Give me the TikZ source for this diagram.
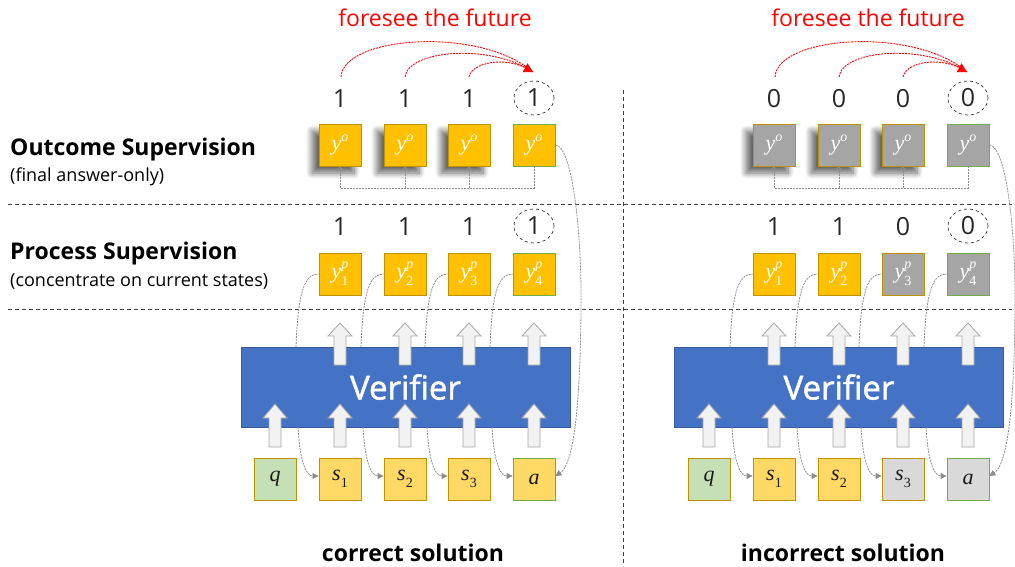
\documentclass[tikz,border=0pt]{standalone}
\usepackage{fontspec}
\setmainfont{Open Sans}
\newfontfamily\mfont{Liberation Serif}
\newfontfamily\vfont{Open Sans}[FakeBold=1.5]
\usetikzlibrary{arrows.meta,shadows.blur,shapes.geometric,calc}
\definecolor{gold}{HTML}{FFC000}
\definecolor{goldline}{HTML}{BF9000}
\definecolor{lyellow}{HTML}{FFD966}
\definecolor{lgreen}{HTML}{C5E0B4}
\definecolor{gline}{HTML}{70AD47}
\definecolor{dgray}{HTML}{A5A5A5}
\definecolor{lgray}{HTML}{D9D9D9}
\definecolor{vblue}{HTML}{4472C4}
\definecolor{arrfill}{HTML}{F2F2F2}
\definecolor{arrline}{HTML}{A6A6A6}
\definecolor{sepline}{HTML}{404040}
\definecolor{conn}{HTML}{8C8C8C}
% math-like labels set in a scalable serif italic
\newcommand\smallfs{\fontsize{14}{14}\selectfont}
\newcommand\yo{{\mfont\itshape y}\raisebox{0.42em}{\mfont\smallfs\itshape o}}
\newcommand\yp[1]{{\mfont\itshape y}\rlap{\raisebox{0.45em}{\mfont\smallfs\itshape p}}\raisebox{-0.32em}{\mfont\smallfs #1}}
\newcommand\sv[1]{{\mfont\itshape s}\raisebox{-0.3em}{\mfont\smallfs #1}}
\tikzset{
  box/.style={draw=goldline, line width=0.9pt, minimum size=42pt, inner sep=0pt, text=white, font=\fontsize{22}{24}\selectfont},
  lowbox/.style={draw=goldline, line width=0.9pt, minimum size=42pt, inner sep=0pt, text=black!90, font=\fontsize{22}{24}\selectfont},
  shad/.style={blur shadow={shadow xshift=-7pt, shadow yshift=-7pt, shadow blur steps=10, shadow opacity=60, shadow blur radius=6pt}},
  num/.style={font=\fontsize{25}{28}\selectfont, text=black!85, inner sep=0pt},
  numc/.style={num, ellipse, draw=black!80, dashed, line width=0.7pt, minimum width=40pt, minimum height=34pt},
  sep/.style={draw=sepline, line width=0.8pt, dash pattern=on 4pt off 3pt},
  fb/.style={draw=conn, line width=0.8pt, dash pattern=on 2pt off 1pt},
  fbarrow/.style={fb, -{Straight Barb[length=4pt,width=8pt]}},
  darrow/.style={fb, -{Triangle[length=6pt,width=6pt]}, color=conn},
  redarc/.style={draw=red, line width=0.9pt, dash pattern=on 2pt off 1pt},
  verif/.style={fill=vblue, draw=vblue!80!black, line width=0.6pt, minimum width=329pt, minimum height=80pt, text=white, font=\vfont\fontsize{33}{36}\selectfont},
  blk/.style={fill=arrfill, draw=arrline, line width=0.8pt, line join=miter},
  title/.style={font=\fontsize{23}{26}\selectfont\bfseries, anchor=west, inner sep=0pt},
  sub/.style={font=\fontsize{18}{21}\selectfont, anchor=west, inner sep=0pt},
  foot/.style={font=\fontsize{23}{26}\selectfont\bfseries, inner sep=0pt},
  red/.style={font=\fontsize{23}{26}\selectfont, text=red, inner sep=0pt}
}
% block arrow: center x, bottom y, tip y, head base y
\newcommand\blkarr[4]{%
  \path[blk] (#1-6,#2) -- (#1-6,#4) -- (#1-12,#4) -- (#1,#3) -- (#1+12,#4) -- (#1+6,#4) -- (#1+6,#2) -- cycle;}
\begin{document}
\begin{tikzpicture}[x=1pt,y=-1pt]
\useasboundingbox (0,0) rectangle (1015,566);

% separators
\draw[sep] (8,204) -- (1012,204);
\draw[sep] (8,309) -- (1012,309);
\draw[sep] (623,90) -- (623,566);

% left labels
\node[title] (t1) at (10,150) {Outcome Supervision};
\node[sub] (t1s) at (10,177) {(final answer-only)};
\node[title] (t2) at (10,254) {Process Supervision};
\node[sub] (t2s) at (10,281) {(concentrate on current states)};

%================ LEFT PANEL =================
% verifier
\node[verif] (Lver) at (405.5,387) {Verifier};
\foreach \x in {340,405,469,534} {\blkarr{\x}{365}{323}{336}}
\foreach \x in {275,340,405,469,534} {\blkarr{\x}{447}{404}{418}}

% outcome
\node[num] (Ln1) at (340,99) {1};
\node[num] (Ln2) at (405,99) {1};
\node[num] (Ln3) at (469,99) {1};
\node[numc] (Ln4) at (534,98) {1};
\node[box, fill=gold, shad] (Lo1) at (340,145) {\yo};
\node[box, fill=gold, shad] (Lo2) at (405,145) {\yo};
\node[box, fill=gold, shad] (Lo3) at (469,145) {\yo};
\node[box, fill=gold, draw=gline] (Lo4) at (534,145) {\yo};
\coordinate (Lfb) at (340,188);
\draw[fb] (Lo4.south) |- (Lfb);
\draw[fbarrow] (Lfb) -- (Lo1.south);
\draw[fbarrow] (Lo2.south |- Lfb) -- (Lo2.south);
\draw[fbarrow] (Lo3.south |- Lfb) -- (Lo3.south);

% foresee
\node[red] (Lred) at (435,18) {foresee the future};
\coordinate (Ltip) at (533,72);
\draw[redarc] (341,77) .. controls (343,36) and (480,26) .. (Ltip);
\draw[redarc] (405,77) .. controls (408,50) and (490,43) .. (Ltip);
\draw[redarc, -{Triangle[length=9pt,width=10pt]}] (469,77) .. controls (472,62) and (505,57) .. (Ltip);

% process
\node[num] (Lm1) at (340,227) {1};
\node[num] (Lm2) at (405,227) {1};
\node[num] (Lm3) at (469,227) {1};
\node[numc] (Lm4) at (534,226) {1};
\node[box, fill=gold] (Lp1) at (340,274) {\yp{1}};
\node[box, fill=gold] (Lp2) at (405,274) {\yp{2}};
\node[box, fill=gold] (Lp3) at (469,274) {\yp{3}};
\node[box, fill=gold, draw=gline] (Lp4) at (534,274) {\yp{4}};
\foreach \i/\x in {1/296,2/361,3/425,4/490} {
  \coordinate (Lu\i) at (\x,347);
  \draw[fb] (Lu\i) .. controls (\x+2,290) and (\x+9,274) .. (Lp\i.west);
}

% inputs
\node[lowbox, fill=lgreen] (Lq) at (275,479) {{\mfont\itshape q}};
\node[lowbox, fill=lyellow] (Ls1) at (340,479) {\sv{1}};
\node[lowbox, fill=lyellow] (Ls2) at (405,479) {\sv{2}};
\node[lowbox, fill=lyellow] (Ls3) at (469,479) {\sv{3}};
\node[lowbox, fill=lyellow, draw=gline] (La) at (534,479) {{\mfont\itshape a}};
\foreach \n/\x in {Ls1/298,Ls2/363,Ls3/427,La/492} {
  \coordinate (Ld\n) at (\x,427);
  \draw[darrow] (Ld\n) .. controls (\x+2,462) and (\x+8,476) .. ([yshift=3pt]\n.west);
}
\draw[darrow] (Lo4.east) .. controls (572,146) and (582,230) .. (581,310) .. controls (580,420) and (572,465) .. ([yshift=3pt]La.east);

\node[foot] (Lfoot) at (413,553) {correct solution};

%================ RIGHT PANEL =================
\begin{scope}[xshift=434pt]
\node[verif] (Rver) at (405,387) {Verifier};
\foreach \x in {340,405,469,534} {\blkarr{\x}{365}{323}{336}}
\foreach \x in {275,340,405,469,534} {\blkarr{\x}{447}{404}{418}}

\node[num] (Rn1) at (340,99) {0};
\node[num] (Rn2) at (405,99) {0};
\node[num] (Rn3) at (469,99) {0};
\node[numc] (Rn4) at (534,98) {0};
\node[box, fill=dgray, shad] (Ro1) at (340,145) {\yo};
\node[box, fill=dgray, shad] (Ro2) at (405,145) {\yo};
\node[box, fill=dgray, shad] (Ro3) at (469,145) {\yo};
\node[box, fill=dgray, draw=gline] (Ro4) at (534,145) {\yo};
\coordinate (Rfb) at (340,188);
\draw[fb] (Ro4.south) |- (Rfb);
\draw[fbarrow] (Rfb) -- (Ro1.south);
\draw[fbarrow] (Ro2.south |- Rfb) -- (Ro2.south);
\draw[fbarrow] (Ro3.south |- Rfb) -- (Ro3.south);

\node[red] (Rred) at (434,18) {foresee the future};
\coordinate (Rtip) at (533,72);
\draw[redarc] (341,77) .. controls (343,36) and (480,26) .. (Rtip);
\draw[redarc] (405,77) .. controls (408,50) and (490,43) .. (Rtip);
\draw[redarc, -{Triangle[length=9pt,width=10pt]}] (469,77) .. controls (472,62) and (505,57) .. (Rtip);

\node[num] (Rm1) at (340,227) {1};
\node[num] (Rm2) at (405,227) {1};
\node[num] (Rm3) at (469,227) {0};
\node[numc] (Rm4) at (534,226) {0};
\node[box, fill=gold] (Rp1) at (340,274) {\yp{1}};
\node[box, fill=gold] (Rp2) at (405,274) {\yp{2}};
\node[box, fill=dgray] (Rp3) at (469,274) {\yp{3}};
\node[box, fill=dgray, draw=gline] (Rp4) at (534,274) {\yp{4}};
\foreach \i/\x in {1/296,2/361,3/425,4/490} {
  \coordinate (Ru\i) at (\x,347);
  \draw[fb] (Ru\i) .. controls (\x+2,290) and (\x+9,274) .. (Rp\i.west);
}

\node[lowbox, fill=lgreen] (Rq) at (275,479) {{\mfont\itshape q}};
\node[lowbox, fill=lyellow] (Rs1) at (340,479) {\sv{1}};
\node[lowbox, fill=lyellow] (Rs2) at (405,479) {\sv{2}};
\node[lowbox, fill=lgray] (Rs3) at (469,479) {\sv{3}};
\node[lowbox, fill=lgray, draw=gline] (Ra) at (534,479) {{\mfont\itshape a}};
\foreach \n/\x in {Rs1/298,Rs2/363,Rs3/427,Ra/492} {
  \coordinate (Rd\n) at (\x,427);
  \draw[darrow] (Rd\n) .. controls (\x+2,462) and (\x+8,476) .. ([yshift=3pt]\n.west);
}
\draw[darrow] (Ro4.east) .. controls (572,146) and (582,230) .. (581,310) .. controls (580,420) and (572,465) .. ([yshift=3pt]Ra.east);

\node[foot] (Rfoot) at (409,553) {incorrect solution};
\end{scope}
\end{tikzpicture}
\end{document}
